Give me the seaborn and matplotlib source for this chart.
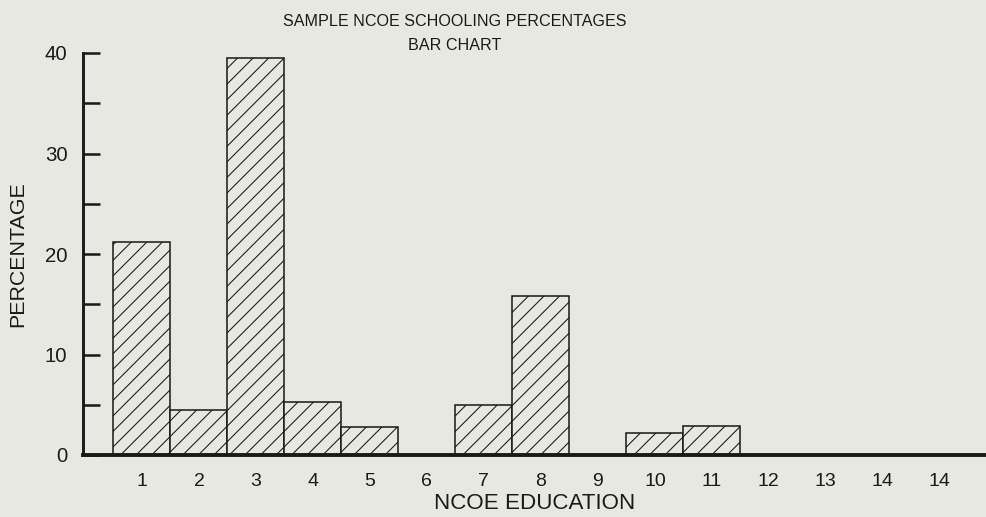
import matplotlib
matplotlib.use("Agg")
import matplotlib.pyplot as plt
import seaborn as sns
import pandas as pd

# Data
slots = list(range(15))
education_labels = ['1', '2', '3', '4', '5', '6', '7', '8', '9', '10', '11', '12', '13', '14', '14']
percentages = [21.2, 4.5, 39.5, 5.3, 2.8, 0, 5.0, 15.8, 0, 2.2, 2.9, 0, 0, 0, 0]
y_major = [0, 10, 20, 30, 40]
y_minor = [5, 15, 25, 35]

df = pd.DataFrame({'slot': slots, 'pct': percentages})

bg = '#e8e8e3'
sns.set_theme(style='white')
plt.rcParams['font.family'] = ['Liberation Sans', 'DejaVu Sans']
plt.rcParams['hatch.linewidth'] = 0.55
plt.rcParams['hatch.color'] = '#222222'

DPI = 140
fig = plt.figure(figsize=(986 / DPI, 517 / DPI), dpi=DPI, facecolor=bg)
ax = fig.add_axes([83 / 986, 1 - 455 / 517, 1 - 83 / 986, (455 - 53) / 517])
ax.set_facecolor(bg)

sns.barplot(data=df, x='slot', y='pct', color=bg, width=1.0,
            edgecolor='#1a1a1a', linewidth=0.8, saturation=1, ax=ax)
for patch in ax.patches:
    patch.set_hatch('///')

ax.set_xlim(-1.035, 14.81)
ax.set_ylim(0, 40)

ax.set_xticks(slots)
ax.set_xticklabels(education_labels, fontsize=10, color='#1a1a1a')
ax.tick_params(axis='x', length=0, pad=9)

ax.set_yticks(y_major)
ax.set_yticks(y_minor, minor=True)
ax.set_yticklabels([str(v) for v in y_major], fontsize=10.5, color='#1a1a1a')
ax.tick_params(axis='y', which='both', direction='in', length=8.5, width=1.3,
               color='#1a1a1a', pad=8, left=True)

for side in ['top', 'right']:
    ax.spines[side].set_visible(False)
ax.spines['left'].set_linewidth(1.5)
ax.spines['bottom'].set_linewidth(2.0)
ax.spines['left'].set_color('#1a1a1a')
ax.spines['bottom'].set_color('#1a1a1a')

ax.set_xlabel('NCOE EDUCATION', fontsize=11.5, color='#1a1a1a', labelpad=2)
ax.set_ylabel('PERCENTAGE', fontsize=11, color='#1a1a1a', labelpad=9)

fig.text(455 / 986, 1 - 21 / 517, 'SAMPLE NCOE SCHOOLING PERCENTAGES',
         ha='center', va='center', fontsize=8.3, color='#1a1a1a')
fig.text(455 / 986, 1 - 45 / 517, 'BAR CHART',
         ha='center', va='center', fontsize=8.3, color='#1a1a1a')

fig.savefig('out.png', dpi=DPI, facecolor=bg)
